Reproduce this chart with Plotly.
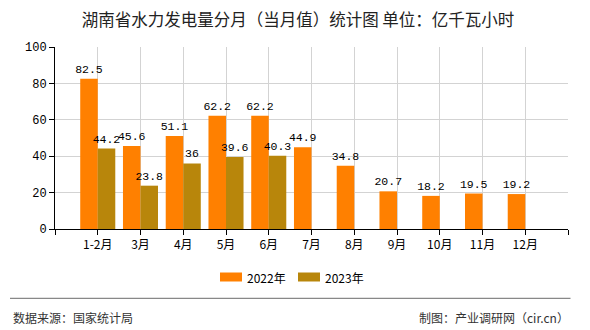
import plotly.graph_objects as go

# ---- data ----
months = ["1-2月", "3月", "4月", "5月", "6月", "7月", "8月", "9月", "10月", "11月", "12月"]
series_names = ["2022年", "2023年"]
values_2022 = [82.5, 45.6, 51.1, 62.2, 62.2, 44.9, 34.8, 20.7, 18.2, 19.5, 19.2]
values_2023 = [44.2, 23.8, 36, 39.6, 40.3]
y_ticks = [0, 20, 40, 60, 80, 100]

title_text = "湖南省水力发电量分月（当月值）统计图 单位：亿千瓦小时"
source_text = "数据来源：国家统计局"
credit_text = "制图：产业调研网（cir.cn）"

colors = ["#FF8000", "#B8860B"]

# ---- layout geometry (pixels) ----
W, H = 590, 330
L, R, T, B = 55, 22, 47, 101
PW, PH = W - L - R, H - T - B


def px(x):
    return (x - L) / PW


def py(y):
    return (H - B - y) / PH


CJK = "Noto Sans CJK SC"
MONO = "Liberation Mono"

x_idx = list(range(len(months)))

fig = go.Figure()
for name, vals, col in zip(series_names, [values_2022, values_2023], colors):
    fig.add_trace(go.Bar(
        x=x_idx[:len(vals)], y=vals, name=name,
        marker=dict(color=col, line=dict(width=0)),
        text=[f"{v:g}" for v in vals],
        textposition="outside",
        textfont=dict(family=MONO, size=11.5, color="#000"),
        constraintext="none",
        cliponaxis=False,
        showlegend=False,
    ))

tickvals = [-1] + x_idx + [len(months)]
ticktext = [""] + months + [""]

fig.update_layout(
    width=W, height=H,
    margin=dict(l=L, r=R, t=T, b=B),
    paper_bgcolor="white", plot_bgcolor="white",
    barmode="group", bargap=0.18, bargroupgap=0,
    showlegend=False,
    title=dict(text=title_text, x=298 / W, xanchor="center", xref="container",
               y=1 - 20 / H, yanchor="middle", yref="container",
               font=dict(family=CJK, size=16.5, color="#222")),
    xaxis=dict(range=[-1, len(months)], tickvals=tickvals, ticktext=ticktext,
               showline=True, linecolor="#000", linewidth=1,
               ticks="outside", ticklen=5, tickcolor="#000",
               showgrid=True, gridcolor="#D3D3D3", gridwidth=1, zeroline=False,
               tickfont=dict(family=CJK, size=12, color="#000")),
    yaxis=dict(range=[0, 100], tickvals=y_ticks,
               showline=True, linecolor="#000", linewidth=1,
               ticks="outside", ticklen=5, tickcolor="#000",
               showgrid=True, gridcolor="#D3D3D3", gridwidth=1, zeroline=False,
               tickfont=dict(family=MONO, size=12, color="#000")),
)

shapes = []
annotations = []
# custom legend
legend_items = [(220, 245), (298, 323)]
for (rx, tx), name, col in zip(legend_items, series_names, colors):
    shapes.append(dict(type="rect", xref="paper", yref="paper",
                       x0=px(rx), x1=px(rx + 22), y0=py(281.5), y1=py(272.5),
                       fillcolor=col, line=dict(width=0)))
    annotations.append(dict(text=name, xref="paper", yref="paper",
                            x=px(tx), y=py(277), xanchor="left", yanchor="middle",
                            showarrow=False,
                            font=dict(family=CJK, size=12, color="#000")))

# footer
shapes.append(dict(type="line", xref="paper", yref="paper",
                   x0=px(10), x1=px(570.5), y0=py(298.3), y1=py(298.3),
                   line=dict(color="#888888", width=1.2)))
annotations.append(dict(text=source_text, xref="paper", yref="paper",
                        x=px(11), y=py(317), xanchor="left", yanchor="middle",
                        showarrow=False, font=dict(family=CJK, size=12, color="#333")))
annotations.append(dict(text=credit_text, xref="paper", yref="paper",
                        x=px(571), y=py(317), xanchor="right", yanchor="middle",
                        showarrow=False, font=dict(family=CJK, size=12, color="#333")))

fig.update_layout(shapes=shapes, annotations=annotations)

fig.write_html("out.html")
